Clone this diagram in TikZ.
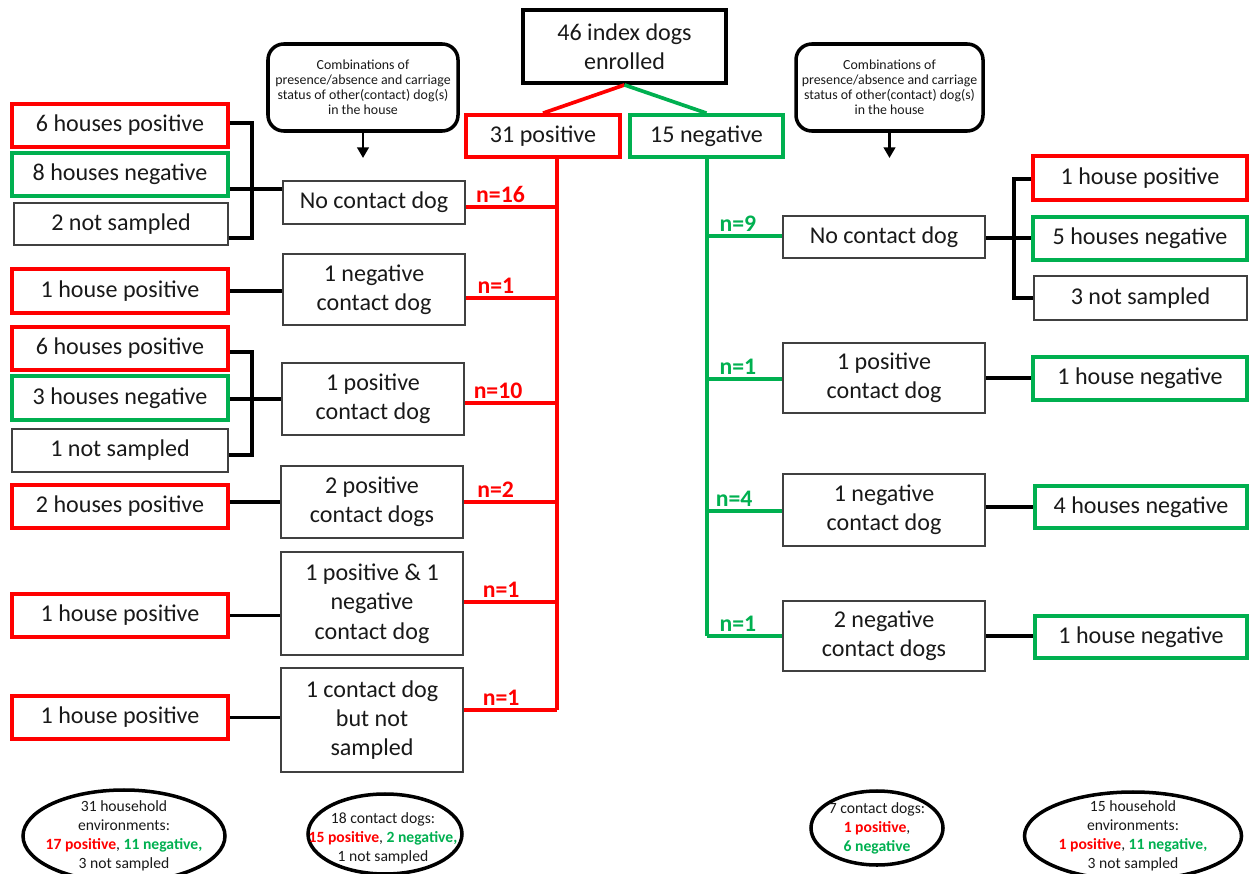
\documentclass[tikz,border=0pt]{standalone}
\usepackage{fontspec}
\setmainfont{Carlito}
\usetikzlibrary{shapes.geometric,arrows.meta,calc}
\definecolor{pred}{RGB}{255,0,0}
\definecolor{pgreen}{RGB}{0,176,80}
\definecolor{txt}{RGB}{25,25,25}
\begin{document}
\begin{tikzpicture}[x=0.02cm,y=-0.02cm,
  sz/.style 2 args={minimum width=#1*0.02cm, minimum height=#2*0.02cm},
  base/.style={rectangle, inner sep=0pt, align=center, text=txt,
    font=\fontsize{13.7}{16.7}\selectfont},
  redbox/.style={base, draw=pred, line width=2.1pt},
  greenbox/.style={base, draw=pgreen, line width=2.1pt},
  plainbox/.style={base, draw=black!75, line width=1pt},
  topbox/.style={base, draw=black, line width=2.2pt},
  callout/.style={rectangle, rounded corners=9pt, draw=black, line width=2pt,
    align=center, inner sep=0pt, text=txt, font=\fontsize{7.9}{8.6}\selectfont},
  oval/.style={ellipse, draw=black, line width=2pt, inner sep=0pt},
  ovaltext/.style={align=center, inner sep=0pt, text=txt,
    font=\fontsize{8.9}{10.8}\selectfont},
  redline/.style={draw=pred, line width=2.1pt},
  greenline/.style={draw=pgreen, line width=2.1pt},
  blkline/.style={draw=black, line width=2.1pt, line join=miter},
  nlab/.style={above, inner sep=1.5pt, font=\bfseries\fontsize{13.5}{16}\selectfont},
  arr/.style={draw=black, line width=1.4pt, -{Triangle[length=6pt,width=6.5pt]}}
]
\useasboundingbox (0,0) rectangle (1250,874);

% top level
\node[topbox, sz={203}{73}] (top) at (624.5,46.5) {46 index dogs\\enrolled};
\node[redbox, sz={154}{42}] (pos) at (543,136) {31 positive};
\node[greenbox, sz={153}{42}] (neg) at (706.5,136) {15 negative};
\draw[redline] (top.south) -- (pos.north);
\draw[greenline] (top.south) -- (neg.north);

% callouts
\node[callout, sz={190}{87}] (cl) at (363,87.5) {Combinations of\\presence/absence and carriage\\status of other(contact) dog(s)\\in the house};
\node[callout, sz={187}{87}] (cr) at (889.5,87.5) {Combinations of\\presence/absence and carriage\\status of other(contact) dog(s)\\in the house};
\coordinate (cla) at (363,158);
\coordinate (cra) at (889.5,158);
\draw[arr] (cl.south) -- (cla);
\draw[arr] (cr.south) -- (cra);

% left middle boxes
\node[plainbox, sz={182}{43}] (lnone) at (374,202.5) {No contact dog};
\node[plainbox, sz={182}{71}] (lneg) at (374,289.5) {1 negative\\contact dog};
\node[plainbox, sz={182}{72}] (lpos) at (373,399) {1 positive\\contact dog};
\node[plainbox, sz={182}{72}] (l2pos) at (372,502) {2 positive\\contact dogs};
\node[plainbox, sz={182}{103}] (lmix) at (372,603.5) {1 positive \& 1\\negative\\contact dog};
\node[plainbox, sz={182}{104}] (lns) at (372,720) {1 contact dog\\but not\\sampled};

% left outer boxes
\node[redbox, sz={216}{43}] (a1) at (120,125.5) {6 houses positive};
\node[greenbox, sz={216}{43}] (a2) at (120,174.5) {8 houses negative};
\node[plainbox, sz={214}{42}] (a3) at (121,224) {2 not sampled};
\node[redbox, sz={216}{44}] (b1) at (120,291) {1 house positive};
\node[redbox, sz={216}{43}] (c1) at (120,348.5) {6 houses positive};
\node[greenbox, sz={216}{44}] (c2) at (120,398) {3 houses negative};
\node[plainbox, sz={216}{43}] (c3) at (120,450.5) {1 not sampled};
\node[redbox, sz={216}{43}] (d1) at (120,506.5) {2 houses positive};
\node[redbox, sz={216}{43}] (e1) at (120,615.5) {1 house positive};
\node[redbox, sz={216}{43}] (f1) at (120,717.5) {1 house positive};

% right middle boxes
\node[plainbox, sz={202}{42}] (rnone) at (884,237) {No contact dog};
\node[plainbox, sz={202}{70}] (rpos) at (884,378) {1 positive\\contact dog};
\node[plainbox, sz={202}{72}] (rneg) at (884,510) {1 negative\\contact dog};
\node[plainbox, sz={202}{70}] (r2neg) at (884,636) {2 negative\\contact dogs};

% right outer boxes
\node[redbox, sz={214}{44}] (g1) at (1140,178) {1 house positive};
\node[greenbox, sz={214}{43}] (g2) at (1140,238.5) {5 houses negative};
\node[plainbox, sz={213}{44}] (g3) at (1140.5,298) {3 not sampled};
\node[greenbox, sz={214}{43}] (h1) at (1140,378.5) {1 house negative};
\node[greenbox, sz={212}{42}] (i1) at (1141,507) {4 houses negative};
\node[greenbox, sz={212}{42}] (j1) at (1141,637) {1 house negative};

% red trunk and branches
\coordinate (t1) at (557,207);
\coordinate (t2) at (557,298);
\coordinate (t3) at (557,403);
\coordinate (t4) at (557,502);
\coordinate (t5) at (557,602);
\coordinate (t6) at (557,710);
\draw[redline] (pos.south -| t1) -- (t6);
\draw[redline] (t1 -| lnone.east) -- node[nlab, text=pred, pos=0.38] {n=16} (t1);
\draw[redline] (t2 -| lneg.east) -- node[nlab, text=pred, pos=0.33] {n=1} (t2);
\draw[redline] (t3 -| lpos.east) -- node[nlab, text=pred, pos=0.36] {n=10} (t3);
\draw[redline] (t4 -| l2pos.east) -- node[nlab, text=pred, pos=0.34] {n=2} (t4);
\draw[redline] (t5 -| lmix.east) -- node[nlab, text=pred, pos=0.4] {n=1} (t5);
\draw[redline] (t6 -| lns.east) -- node[nlab, text=pred, pos=0.4] {n=1} (t6);

% green trunk and branches
\coordinate (u1) at (707,236);
\coordinate (u2) at (707,379);
\coordinate (u3) at (707,511);
\coordinate (u4) at (707,636);
\draw[greenline] (neg.south -| u1) -- (u4);
\draw[greenline] (u1) -- node[nlab, text=pgreen, pos=0.41] {n=9} (u1 -| rnone.west);
\draw[greenline] (u2) -- node[nlab, text=pgreen, pos=0.41] {n=1} (u2 -| rpos.west);
\draw[greenline] (u3) -- node[nlab, text=pgreen, pos=0.36] {n=4} (u3 -| rneg.west);
\draw[greenline] (u4) -- node[nlab, text=pgreen, pos=0.41] {n=1} (u4 -| r2neg.west);

% left brackets
\coordinate (ka) at (252,123);
\coordinate (kb) at (252,189);
\coordinate (kc) at (252,238);
\draw[blkline] (ka -| a1.east) -- (ka) -- (kc) -- (kc -| a3.east);
\draw[blkline] (kb -| a2.east) -- (kb -| lnone.west);
\coordinate (ma) at (252,352);
\coordinate (mb) at (252,399);
\coordinate (mc) at (252,455);
\draw[blkline] (ma -| c1.east) -- (ma) -- (mc) -- (mc -| c3.east);
\draw[blkline] (mb -| c2.east) -- (mb -| lpos.west);
\draw[blkline] (b1.east) -- (b1.east -| lneg.west);
\draw[blkline] (d1.east |- l2pos.west) -- (l2pos.west);
\draw[blkline] (e1.east) -- (e1.east -| lmix.west);
\draw[blkline] (f1.east) -- (f1.east -| lns.west);

% right brackets
\coordinate (qa) at (1014,179);
\coordinate (qb) at (1014,238);
\coordinate (qc) at (1014,298);
\draw[blkline] (qa -| g1.west) -- (qa) -- (qc) -- (qc -| g3.west);
\draw[blkline] (qb -| rnone.east) -- (qb -| g2.west);
\draw[blkline] (rpos.east) -- (rpos.east -| h1.west);
\draw[blkline] (rneg.east |- i1.west) -- (i1.west);
\draw[blkline] (r2neg.east) -- (r2neg.east -| j1.west);

% summary ellipses
\node[oval, sz={202}{92}] (el1) at (124,836) {};
\node[ovaltext] (el1t) at (el1.center) {31 household\\environments:\\{\bfseries\textcolor{pred}{17 positive}}, {\bfseries\textcolor{pgreen}{11 negative,}}\\3 not sampled};
\node[oval, sz={154}{80}] (el2) at (385,834) {};
\node[ovaltext] (el2t) at (383,838) {18 contact dogs:\\{\bfseries\textcolor{pred}{15 positive}}, {\bfseries\textcolor{pgreen}{2 negative,}}\\1 not sampled};
\node[oval, sz={132}{74}] (el3) at (877,828) {};
\node[ovaltext] (el3t) at (el3.center) {7 contact dogs:\\{\bfseries\textcolor{pred}{1 positive}},\\{\bfseries\textcolor{pgreen}{6 negative}}};
\node[oval, sz={217}{88}] (el4) at (1133,836) {};
\node[ovaltext] (el4t) at (el4.center) {15 household\\environments:\\{\bfseries\textcolor{pred}{1 positive}}, {\bfseries\textcolor{pgreen}{11 negative,}}\\3 not sampled};
\end{tikzpicture}
\end{document}
